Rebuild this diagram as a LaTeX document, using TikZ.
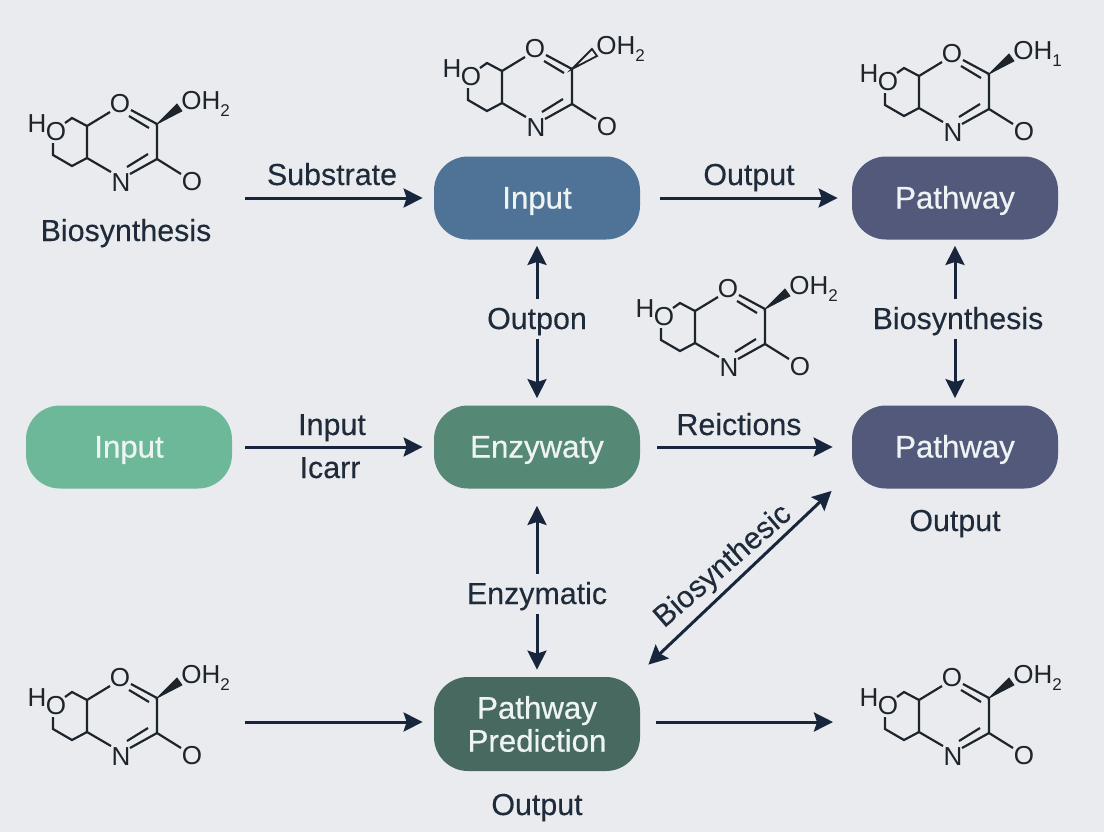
\documentclass[tikz,border=0pt]{standalone}
\usepackage{fontspec}
\setmainfont{Liberation Sans}
\newfontface\boxface{Liberation Sans}[FakeBold=0.6]
\newfontface\labface{Liberation Sans}[FakeBold=0.2]
\usetikzlibrary{arrows.meta}
\definecolor{bgc}{HTML}{E9EBEE}
\definecolor{inkc}{HTML}{17263D}
\definecolor{molc}{HTML}{1D242C}
\definecolor{txtc}{HTML}{1F2B3A}
\definecolor{boxwhite}{HTML}{EEF4F3}
\definecolor{inputc}{HTML}{4F7396}
\definecolor{pathc}{HTML}{53597A}
\definecolor{greenc}{HTML}{6DB899}
\definecolor{enzc}{HTML}{558875}
\definecolor{predc}{HTML}{47695F}
\tikzset{
  boxnode/.style={rectangle,rounded corners=17pt,minimum width=103pt,minimum height=41.5pt,
    text=boxwhite,align=center,font=\fontsize{15.6}{16.5}\boxface},
  oneline/.style={boxnode,text height=10.5pt,text depth=0pt},
  lab/.style={text=txtc,inner sep=0pt,text height=12pt,text depth=2pt,font=\fontsize{15.2}{18}\labface},
  gaplab/.style={lab,fill=bgc,inner ysep=3pt},
  link/.style={draw=inkc,line width=1.5pt,-{Stealth[length=9.5pt,width=9.5pt,inset=1.5pt]}},
  dlink/.style={link,{Stealth[length=9.5pt,width=9.5pt,inset=1.5pt]}-{Stealth[length=9.5pt,width=9.5pt,inset=1.5pt]}},
  atom/.style={text=molc,inner sep=0pt,font=\fontsize{13}{13}\selectfont},
  bond/.style={draw=molc,line width=1.1pt},
  solidwedge/.style={fill=molc,draw=molc,line width=0.4pt},
  openwedge/.style={fill=bgc,draw=molc,line width=0.9pt},
}
% name, shift x, shift y, subscript, wedge style
\newcommand{\molecule}[5]{
\begin{scope}[shift={(#2,#3)}]
\draw[bond] (65,123)--(72,118)--(87,126)--(87,158)--(72,166)--(53,155)--(53,143);
\draw[bond] (87,126)--(110,112);
\draw[bond] (87,158)--(111,172);
\draw[bond] (131,110)--(157,124)--(157,159)--(130,174);
\draw[bond] (129,116)--(149,128);
\draw[bond] (148,154)--(127,167);
\draw[bond] (157,159)--(181,174);
\draw[#5] (157,124)--(177,104)--(182,111)--cycle;
\node[atom] (#1h) at (37,124) {H};
\node[atom] (#1oa) at (56,132) {O};
\node[atom] (#1ob) at (120,104) {O};
\node[atom] (#1n) at (121,183) {N};
\node[atom] (#1oc) at (192,182) {O};
\node[atom,anchor=base west] (#1oh) at (181,109) {OH\raisebox{-3.5pt}{\fontsize{8.5}{8.5}\selectfont #4}};
\end{scope}
}
\begin{document}
\begin{tikzpicture}[x=0.5pt,y=-0.5pt]
\fill[bgc] (0,0) rectangle (1104,832);
\useasboundingbox (0,0) rectangle (1104,832);
\node[oneline,fill=inputc] (inputtop) at (537,198) {Input};
\node[oneline,fill=pathc] (pathtop) at (955,198) {Pathway};
\node[oneline,fill=greenc] (inputleft) at (129,447) {Input};
\node[oneline,fill=enzc] (enzy) at (537,447) {Enzywaty};
\node[oneline,fill=pathc] (pathmid) at (955,447) {Pathway};
\node[boxnode,fill=predc,minimum height=47pt] (pred) at (537,724) {Pathway\\Prediction};
\coordinate (subin) at (245,198);
\coordinate (botin) at (245,722);
\coordinate (botout) at (833,722);
\draw[link,shorten >=5.5pt] (subin)--(inputtop);
\draw[link,shorten <=10pt,shorten >=7pt] (inputtop)--(pathtop);
\draw[link,shorten <=6.5pt,shorten >=5.5pt] (inputleft)--(enzy);
\draw[link,shorten <=8.5pt,shorten >=9.5pt] (enzy)--(pathmid);
\draw[link,shorten >=5.5pt] (botin)--(botin-|pred.west);
\draw[link,shorten <=8pt] (botout-|pred.east)--(botout);
\draw[dlink,shorten <=3pt,shorten >=3.5pt] (inputtop)--(enzy);
\draw[dlink,shorten <=3pt,shorten >=3.5pt] (pathtop)--(pathmid);
\draw[dlink,shorten <=8.5pt,shorten >=3.5pt] (enzy)--(pred);
\draw[dlink] ([shift={(8,-12)}]pred.north east)--([shift={(-20,2)}]pathmid.south west);
\node[lab] (lsubstrate) at (332,175) {Substrate};
\node[lab] (loutput) at (749,175) {Output};
\node[lab] (lbiotop) at (126,231) {Biosynthesis};
\node[gaplab] (loutpon) at (537,319) {Outpon};
\node[gaplab] (lbioright) at (958,319) {Biosynthesis};
\node[lab] (linput) at (332,425) {Input};
\node[lab] (licarr) at (330,468) {Icarr};
\node[lab] (lreict) at (739,425) {Reictions};
\node[lab] (loutmid) at (955,521) {Output};
\node[gaplab] (lenzym) at (537,594) {Enzymatic};
\node[lab] (loutbot) at (537,805) {Output};
\node[lab,rotate=41] (lbiodiag) at (722,565) {Biosynthesic};
\molecule{ma}{0}{0}{2}{solidwedge}
\molecule{mb}{415}{-55}{2}{openwedge}
\molecule{mc}{832}{-50}{1}{solidwedge}
\molecule{md}{608}{185}{2}{solidwedge}
\molecule{me}{0}{574}{2}{solidwedge}
\molecule{mf}{832}{574}{2}{solidwedge}
\end{tikzpicture}
\end{document}
